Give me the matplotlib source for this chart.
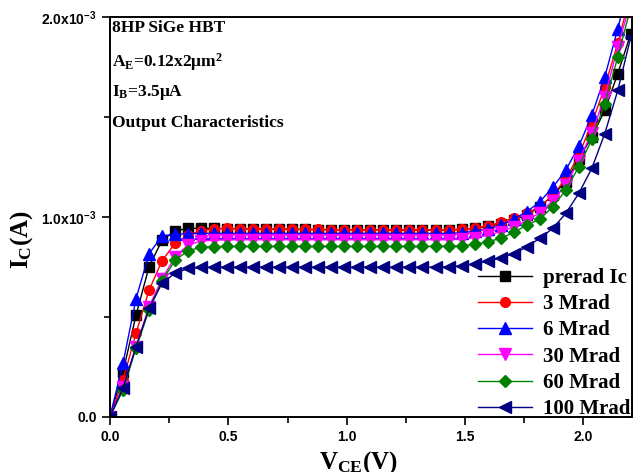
import numpy as np
import matplotlib
matplotlib.use("Agg")
import matplotlib.pyplot as plt
from matplotlib.ticker import MultipleLocator, FixedLocator

plt.rcParams["mathtext.default"] = "regular"

# collector voltage sweep, 41 points from 0 to 2.2 V
vce = np.arange(41) * 0.055

# collector current in mA
prerad = [0, 0.223, 0.508, 0.75, 0.883, 0.93, 0.942, 0.943, 0.942, 0.941,
          0.940, 0.939, 0.938, 0.938, 0.937, 0.937, 0.936, 0.936, 0.935, 0.935,
          0.935, 0.935, 0.934, 0.934, 0.934, 0.934, 0.935, 0.937, 0.942, 0.952,
          0.965, 0.985, 1.01, 1.05, 1.108, 1.175, 1.29, 1.40, 1.533, 1.717, 1.917]
mrad3 = [0, 0.183, 0.418, 0.633, 0.78, 0.868, 0.908, 0.93, 0.94, 0.942,
         0.941, 0.940, 0.939, 0.938, 0.938, 0.937, 0.937, 0.936, 0.936, 0.935,
         0.935, 0.935, 0.935, 0.935, 0.935, 0.935, 0.936, 0.938, 0.943, 0.955,
         0.972, 0.995, 1.017, 1.05, 1.108, 1.19, 1.308, 1.467, 1.65, 1.87, 2.12]
mrad6 = [0, 0.267, 0.59, 0.815, 0.905, 0.912, 0.916, 0.917, 0.917, 0.917,
         0.917, 0.917, 0.917, 0.917, 0.917, 0.917, 0.917, 0.917, 0.917, 0.917,
         0.917, 0.917, 0.917, 0.917, 0.917, 0.917, 0.917, 0.92, 0.928, 0.94,
         0.958, 0.988, 1.025, 1.075, 1.147, 1.233, 1.353, 1.508, 1.70, 1.942, 2.2]
mrad30 = [0, 0.15, 0.35, 0.55, 0.69, 0.80, 0.86, 0.878, 0.884, 0.885,
          0.886, 0.886, 0.886, 0.886, 0.886, 0.886, 0.886, 0.886, 0.886, 0.886,
          0.886, 0.886, 0.886, 0.886, 0.886, 0.886, 0.886, 0.889, 0.896, 0.908,
          0.925, 0.95, 0.98, 1.02, 1.08, 1.16, 1.28, 1.42, 1.60, 1.85, 2.08]
mrad60 = [0, 0.133, 0.343, 0.533, 0.68, 0.783, 0.83, 0.848, 0.851, 0.852,
          0.852, 0.852, 0.852, 0.852, 0.852, 0.852, 0.852, 0.852, 0.852, 0.852,
          0.852, 0.852, 0.852, 0.852, 0.852, 0.852, 0.853, 0.855, 0.862, 0.875,
          0.892, 0.922, 0.958, 0.988, 1.05, 1.133, 1.25, 1.387, 1.567, 1.80, 2.05]
mrad100 = [0, 0.143, 0.35, 0.543, 0.668, 0.718, 0.742, 0.747, 0.748, 0.748,
           0.748, 0.748, 0.748, 0.748, 0.748, 0.748, 0.748, 0.748, 0.748, 0.748,
           0.748, 0.748, 0.748, 0.748, 0.748, 0.749, 0.75, 0.755, 0.765, 0.778,
           0.795, 0.815, 0.85, 0.892, 0.942, 1.017, 1.117, 1.242, 1.417, 1.633, 1.90]

series = [
    ("prerad Ic", prerad, "black", "s", 6.5),
    ("3 Mrad", mrad3, "red", "o", 7),
    ("6 Mrad", mrad6, "blue", "^", 8),
    ("30 Mrad", mrad30, "#FF00FF", "v", 8),
    ("60 Mrad", mrad60, "#008000", "D", 6.5),
    ("100 Mrad", mrad100, "#000080", "<", 8),
]

fig = plt.figure(figsize=(6.35, 4.72), dpi=100)
ax = fig.add_axes([0.1732, 0.1172, 0.8221, 0.8468])

for label, ic, color, marker, ms in series:
    ax.plot(vce, np.array(ic) * 1e-3, color=color, marker=marker, ms=ms,
            lw=1, label=label)

ax.set_xlim(0, 2.205)
ax.set_ylim(0, 2.0e-3)

ax.xaxis.set_major_locator(MultipleLocator(0.5))
ax.xaxis.set_minor_locator(MultipleLocator(0.25))
ax.yaxis.set_major_locator(FixedLocator([0, 1.0e-3, 2.0e-3]))
ax.yaxis.set_minor_locator(FixedLocator([0.5e-3, 1.5e-3]))
ax.set_yticklabels(["0.0", r"1.0x10$^{-3}$", r"2.0x10$^{-3}$"])
ax.tick_params(which="both", direction="out", width=1.2, top=False, right=False)
ax.tick_params(which="major", length=6, labelsize=10)
ax.tick_params(which="minor", length=4)
for lab in ax.get_xticklabels() + ax.get_yticklabels():
    lab.set_fontfamily("Liberation Sans")
    lab.set_fontweight("bold")
for sp in ax.spines.values():
    sp.set_linewidth(1.4)

serif = dict(family="Liberation Serif", fontweight="bold")
ax.set_xlabel(r"V$_{CE}$(V)", fontsize=18, **serif)
ax.set_ylabel(r"I$_C$(A)", fontsize=18, **serif)
ax.xaxis.set_label_coords(0.475, -0.08)
ax.yaxis.set_label_coords(-0.144, 0.442)

notes = ["8HP SiGe HBT", r"A$_E$=0.12x2μm$^2$", r"I$_B$=3.5μA",
         "Output Characteristics"]
note_y = [0.972, 0.887, 0.810, 0.735]
for t, y in zip(notes, note_y):
    ax.text(0.004, y, t, transform=ax.transAxes,
            fontsize=12.5, va="center", ha="left", **serif)

ax.legend(loc="lower right", bbox_to_anchor=(1.016, -0.032), frameon=False,
          handlelength=2.6, borderaxespad=0.1, labelspacing=0.3,
          handletextpad=0.5,
          prop=dict(family="Liberation Serif", weight="bold", size=15))

fig.savefig("out.png", dpi=100)
